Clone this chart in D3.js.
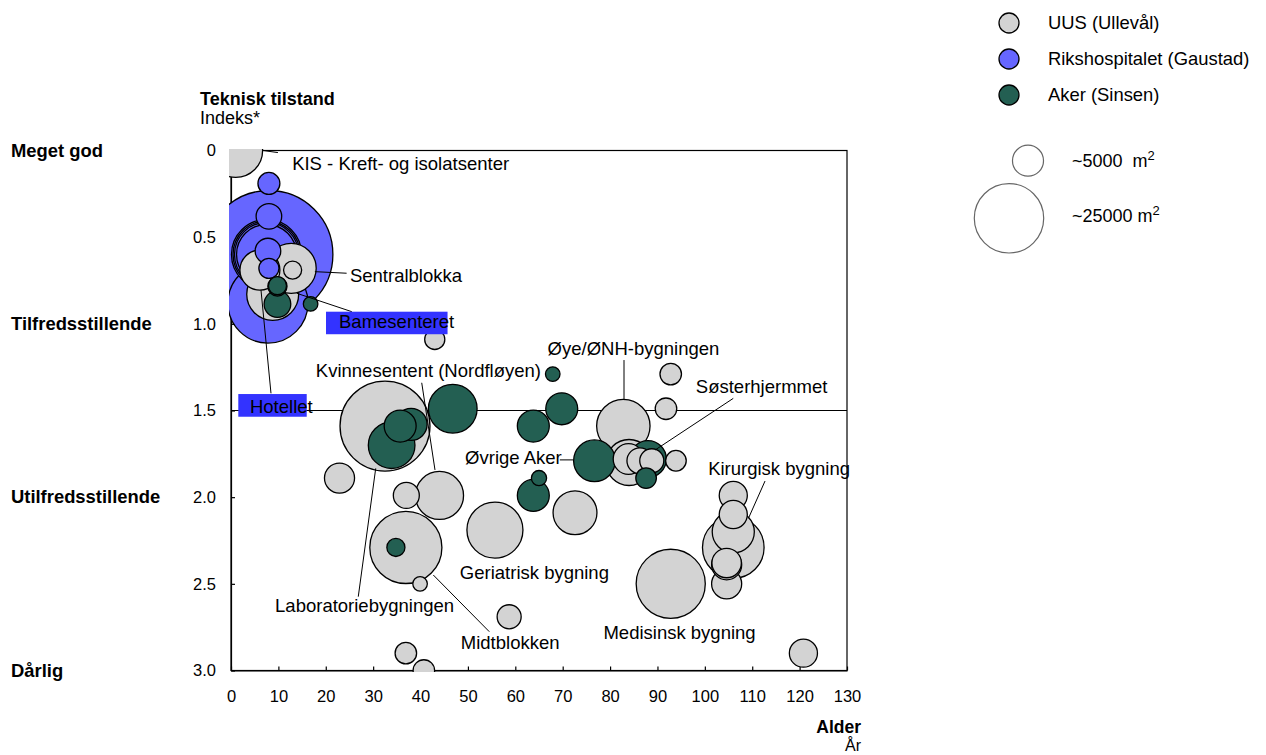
<!DOCTYPE html>
<html>
<head>
<meta charset="utf-8">
<script src="https://cdn.jsdelivr.net/npm/d3@7"></script>
<style>
  body { margin: 0; background: #fff; }
  text { font-family: "Liberation Sans", Arial, sans-serif; fill: #000; }
</style>
</head>
<body>
<svg width="1266" height="755"></svg>
<script>
// series: [alder (år), teknisk tilstand (indeks), areal (m2)]
var seriesNames = ["UUS (Ullevål)", "Rikshospitalet (Gaustad)", "Aker (Sinsen)"];
var seriesColors = ["#d3d3d3", "#6666ff", "#235f52"];

var uus = [
  [1, 0.0, 15000], [6.1, 0.69, 8300], [12.7, 0.68, 13000], [13, 0.69, 1700],
  [8.8, 0.83, 14000], [43, 1.09, 2100], [32.5, 1.59, 42000], [22.9, 1.89, 4700],
  [37, 1.99, 3500], [44, 1.99, 12000], [55.7, 2.19, 16300], [72.6, 2.09, 10000],
  [36.9, 2.29, 27000], [39.9, 2.5, 1100], [58.7, 2.69, 3000], [36.9, 2.9, 2400],
  [40.7, 3.0, 2400], [82.8, 1.59, 14800], [84, 1.8, 11000], [83.9, 1.78, 4900],
  [86.3, 1.79, 3500], [88.8, 1.79, 3000], [93.9, 1.79, 2200], [91.8, 1.49, 2400],
  [92.8, 1.29, 2400], [106, 1.99, 4100], [106, 2.1, 4100], [106, 2.2, 9200],
  [106, 2.29, 19700], [104.6, 2.5, 4700], [104.6, 2.39, 4700], [104.6, 2.38, 4500],
  [92.8, 2.5, 24800], [120.8, 2.9, 4100]
];
var riks = [
  [8, 0.6, 85000], [7.8, 0.88, 33300], [7.5, 0.6, 25500], [7.5, 0.6, 23300],
  [7.5, 0.6, 21300], [7.5, 0.6, 18700], [8, 0.19, 2500], [8, 0.38, 3400],
  [7.8, 0.58, 3400], [8, 0.68, 2100]
];
var aker = [
  [9.8, 0.78, 1700], [9.8, 0.785, 1900], [9.8, 0.886, 3700], [16.8, 0.885, 1100],
  [38, 1.58, 5350], [35.7, 1.59, 5300], [33.9, 1.7, 11300], [46.8, 1.49, 12300],
  [67.9, 1.29, 1100], [69.8, 1.49, 5300], [63.8, 1.59, 5300], [63.8, 1.99, 5300],
  [65, 1.89, 1200], [34.8, 2.29, 1700], [76.7, 1.79, 9000], [88, 1.78, 7000],
  [87.6, 1.89, 2200]
];

var xTicks = d3.range(0, 131, 10);
var yTicks = [0, 0.5, 1, 1.5, 2, 2.5, 3];
var yCategories = [[0, "Meget god"], [1, "Tilfredsstillende"], [2, "Utilfredsstillende"], [3, "Dårlig"]];
var refLine = 1.5;
var sizeLegend = [5000, 25000];

// annotations in data units: text anchor, leader line, optional highlight box
var notes = [
  {text: "KIS - Kreft- og isolatsenter", at: [12.9, 0.113], line: [6.75, 0, 9.9, 0.012]},
  {text: "Sentralblokka", at: [25.1, 0.757], line: [17.7, 0.699, 24.4, 0.708]},
  {text: "Bamesenteret", at: [22.8, 1.026], line: [13.9, 0.824, 25.5, 0.93], box: [20.05, 0.93, 45.7, 1.06]},
  {text: "Hotellet", at: [4.0, 1.513], line: [6.33, 0.805, 8.44, 1.401], box: [1.54, 1.405, 15.98, 1.536]},
  {text: "Kvinnesentent (Nordfløyen)", at: [17.9, 1.308], line: [40.25, 1.34, 43.05, 1.843]},
  {text: "Øye/ØNH-bygningen", at: [103.05, 1.18], anchor: "end", line: [82.94, 1.209, 82.94, 1.44]},
  {text: "Søsterhjermmet", at: [98.1, 1.401], line: [106, 1.43, 89.5, 1.728]},
  {text: "Kirurgisk bygning", at: [100.7, 1.872], line: [112.7, 1.907, 109.2, 2.122]},
  {text: "Øvrige Aker", at: [49.4, 1.808], line: [69.4, 1.785, 72.2, 1.785]},
  {text: "Geriatrisk bygning", at: [48.3, 2.474]},
  {text: "Laboratoriebygningen", at: [9.3, 2.664], line: [26.86, 2.574, 30.54, 1.834]},
  {text: "Midtblokken", at: [48.5, 2.878], line: [42.69, 2.449, 54.51, 2.776]},
  {text: "Medisinsk bygning", at: [78.6, 2.82]}
];

var svg = d3.select("svg"),
    margin = {top: 150.5, right: 419, bottom: 84.5, left: 231},
    width = +svg.attr("width") - margin.left - margin.right,
    height = +svg.attr("height") - margin.top - margin.bottom;

var x = d3.scaleLinear().domain([0, 130]).range([margin.left, margin.left + width]);
var y = d3.scaleLinear().domain([0, 3]).range([margin.top, margin.top + height]);
var r = d3.scaleSqrt().domain([0, 25000]).range([0, 34.7]);

// frame
svg.append("rect")
    .attr("x", x(0)).attr("y", y(0))
    .attr("width", width).attr("height", height)
    .attr("fill", "none").attr("stroke", "#000").attr("stroke-width", 1.2);

svg.append("line")
    .attr("x1", x(0)).attr("x2", x(130))
    .attr("y1", y(refLine)).attr("y2", y(refLine))
    .attr("stroke", "#000").attr("stroke-width", 1.2);

var gx = svg.append("g")
    .attr("transform", "translate(0," + y(3) + ")")
    .call(d3.axisBottom(x).tickValues(xTicks).tickSize(-4).tickSizeOuter(0).tickPadding(20));
var gy = svg.append("g")
    .attr("transform", "translate(" + x(0) + ",0)")
    .call(d3.axisLeft(y).tickValues(yTicks).tickSize(-4).tickSizeOuter(0).tickPadding(15)
      .tickFormat(function(d) { return d === 0 ? "0" : d3.format(".1f")(d); }));
[gx, gy].forEach(function(g) {
  g.attr("font-size", 16.5).attr("font-family", "Liberation Sans, Arial, sans-serif");
  g.selectAll("path, line").attr("stroke", "#000").attr("stroke-width", 1.2);
});

// bubbles, largest first
var bubbles = [];
[uus, riks, aker].forEach(function(s, i) {
  s.forEach(function(d) { bubbles.push({x: d[0], y: d[1], a: d[2], s: i}); });
});
bubbles.sort(function(a, b) { return b.a - a.a; });

svg.append("defs").append("clipPath")
    .attr("id", "clip")
  .append("rect")
    .attr("x", x(0) - 2).attr("y", y(0) - 1.5)
    .attr("width", width + 3).attr("height", height + 3);

svg.append("g")
    .attr("clip-path", "url(#clip)")
  .selectAll("circle")
  .data(bubbles)
  .enter().append("circle")
    .attr("cx", function(d) { return x(d.x); })
    .attr("cy", function(d) { return y(d.y); })
    .attr("r", function(d) { return r(d.a); })
    .attr("fill", function(d) { return seriesColors[d.s]; })
    .attr("stroke", "#000")
    .attr("stroke-width", 1.3);

// annotations
var gn = svg.append("g");
notes.forEach(function(n) {
  if (n.line) {
    gn.append("line")
        .attr("x1", x(n.line[0])).attr("y1", y(n.line[1]))
        .attr("x2", x(n.line[2])).attr("y2", y(n.line[3]))
        .attr("stroke", "#000").attr("stroke-width", 1);
  }
  if (n.box) {
    gn.append("rect")
        .attr("x", x(n.box[0])).attr("y", y(n.box[1]))
        .attr("width", x(n.box[2]) - x(n.box[0]))
        .attr("height", y(n.box[3]) - y(n.box[1]))
        .attr("fill", "#3333ff");
  }
  gn.append("text")
      .attr("x", x(n.at[0])).attr("y", y(n.at[1]))
      .attr("text-anchor", n.anchor || "start")
      .attr("font-size", 18.5)
      .text(n.text);
});

// axis titles
svg.append("text").attr("x", 200).attr("y", 105)
    .attr("font-size", 18).attr("font-weight", "bold").text("Teknisk tilstand");
svg.append("text").attr("x", 200).attr("y", 124)
    .attr("font-size", 18).text("Indeks*");
svg.append("text").attr("x", 861).attr("y", 733).attr("text-anchor", "end")
    .attr("font-size", 17.5).attr("font-weight", "bold").text("Alder");
svg.append("text").attr("x", 861).attr("y", 751).attr("text-anchor", "end")
    .attr("font-size", 16).text("År");

svg.append("g").selectAll("text")
  .data(yCategories)
  .enter().append("text")
    .attr("x", 11)
    .attr("y", function(d) { return y(d[0]) + 6; })
    .attr("font-size", 18.4).attr("font-weight", "bold")
    .text(function(d) { return d[1]; });

// legend
var lg = svg.append("g");
seriesNames.forEach(function(name, i) {
  var cy = 23 + i * 36;
  lg.append("circle").attr("cx", 1009).attr("cy", cy).attr("r", 10)
      .attr("fill", seriesColors[i]).attr("stroke", "#000").attr("stroke-width", 1.3);
  lg.append("text").attr("x", 1048).attr("y", cy + 6).attr("font-size", 18.4).text(name);
});

var sizePos = [[1028, 160.7, 166.7, "~5000\u00a0\u00a0m"], [1009, 218.3, 221.7, "~25000 m"]];
sizeLegend.forEach(function(a, i) {
  var p = sizePos[i];
  lg.append("circle").attr("cx", p[0]).attr("cy", p[1]).attr("r", r(a))
      .attr("fill", "#fff").attr("stroke", "#666").attr("stroke-width", 1.2);
  var t = lg.append("text").attr("x", 1072).attr("y", p[2]).attr("font-size", 18).text(p[3]);
  t.append("tspan").attr("dy", -7).attr("font-size", 13).text("2");
});
</script>
</body>
</html>
